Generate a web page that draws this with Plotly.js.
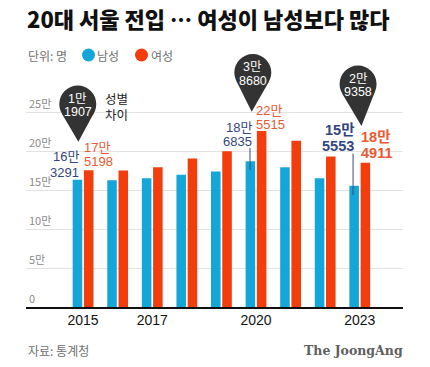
<!DOCTYPE html>
<html><head><meta charset="utf-8">
<script src="https://cdn.plot.ly/plotly-3.0.1.min.js"></script>
<style>html,body{margin:0;padding:0;background:#fff}</style>
</head><body><div id="chart" style="width:430px;height:367px"></div>
<script>
const years = [2015, 2016, 2017, 2018, 2019, 2020, 2021, 2022, 2023];
const male = [163291, 162600, 165100, 169500, 173700, 186835, 179200, 165100, 155553];
const female = [175198, 175000, 179200, 190400, 199700, 225515, 213000, 193000, 184911];
const yTickVals = [0, 50000, 100000, 150000, 200000, 250000];
const yTickText = ['0', '5만', '10만', '15만', '20만', '25만'];
const xTickVals = [2015, 2017, 2020, 2023];
const calloutYears = [2015, 2020, 2023];
const maleLabels = [['16만', '3291'], ['18만', '6835'], ['15만', '5553']];
const femaleLabels = [['17만', '5198'], ['22만', '5515'], ['18만', '4911']];
const gapLabels = [['1만', '1907'], ['3만', '8680'], ['2만', '9358']];

const BLUE = '#14a6d8', RED = '#f43d0c', NAVY = '#33467e', ORANGE = '#e85a33', PIN = '#333333';
const FONT = 'Liberation Sans, Noto Sans CJK KR, sans-serif';
const KFONT = 'Noto Sans CJK KR, sans-serif';
const YMAX = 237 / 0.00078;

// layout-only styling for callouts (pixel offsets, y up from bar top)
const pinC = [[-5.3, 66.3], [-3.2, 58.6], [-1.7, 78.8]];
const pinT = [[-4.7, 28.6], [-4.3, 19.4], [1.7, 36.8]];
const PIN_R = 18.5;
const mX = [-3, -3, -5], mY = [[22.9, 7.6], [34, 19.6], [55.7, 39.5]];
const fX = [0, -1, 0], fY = [[23.3, 8.6], [21.1, 7.1], [26, 9.5]];
const bold = [false, false, true];
const leaders = [null, [-6, 13.3, -8.7], [-6.7, 32, -9.3]];

const traces = [
  {type: 'bar', x: years, y: male, name: '남성', marker: {color: BLUE}, hoverinfo: 'skip'},
  {type: 'bar', x: years, y: female, name: '여성', marker: {color: RED}, hoverinfo: 'skip'}
];

const annotations = [];
const shapes = [];
function dataText(x, y, xshift, yshift, text, font, xanchor) {
  annotations.push({x, y, xref: 'x', yref: 'y', text, showarrow: false, borderpad: 0,
    xanchor, yanchor: 'middle', xshift, yshift, font});
}
calloutYears.forEach((yr, k) => {
  const i = years.indexOf(yr);
  const fs = bold[k] ? 14.5 : 13;
  const w = t => bold[k] ? '<b>' + t + '</b>' : t;
  maleLabels[k].forEach((t, j) => dataText(yr, male[i], mX[k], mY[k][j], w(t),
    {family: FONT, size: fs, color: NAVY}, 'right'));
  femaleLabels[k].forEach((t, j) => dataText(yr, female[i], fX[k], fY[k][j], w(t),
    {family: FONT, size: fs, color: ORANGE}, 'left'));
  // pin (teardrop)
  const [cx, cy] = pinC[k], [tx, ty] = pinT[k];
  const d = Math.hypot(tx - cx, ty - cy), ux = (tx - cx) / d, uy = (ty - cy) / d;
  const th = Math.acos(PIN_R / d), px = -uy, py = ux;
  const a1 = [cx + PIN_R * (Math.cos(th) * ux + Math.sin(th) * px), cy + PIN_R * (Math.cos(th) * uy + Math.sin(th) * py)];
  const a2 = [cx + PIN_R * (Math.cos(th) * ux - Math.sin(th) * px), cy + PIN_R * (Math.cos(th) * uy - Math.sin(th) * py)];
  const ya = female[i] / YMAX;
  shapes.push({type: 'circle', xref: 'x', yref: 'paper', xsizemode: 'pixel', ysizemode: 'pixel',
    xanchor: yr, yanchor: ya, x0: cx - PIN_R, x1: cx + PIN_R, y0: cy - PIN_R, y1: cy + PIN_R,
    fillcolor: PIN, line: {width: 0}});
  shapes.push({type: 'path', xref: 'x', yref: 'paper', xsizemode: 'pixel', ysizemode: 'pixel',
    xanchor: yr, yanchor: ya,
    path: `M ${tx},${ty} L ${a1[0].toFixed(2)},${a1[1].toFixed(2)} L ${a2[0].toFixed(2)},${a2[1].toFixed(2)} Z`,
    fillcolor: PIN, line: {width: 0}});
  gapLabels[k].forEach((t, j) => dataText(yr, female[i], cx, cy - 1.5 + (j === 0 ? 6.8 : -6.8), t,
    {family: FONT, size: 12.5, color: '#ffffff'}, 'center'));
  if (leaders[k]) {
    const [lx, y0, y1] = leaders[k];
    shapes.push({type: 'line', xref: 'x', yref: 'y', xsizemode: 'pixel', ysizemode: 'pixel',
      xanchor: yr, yanchor: male[i], x0: lx, x1: lx, y0, y1, line: {color: '#3b4a70', width: 1}});
  }
});

// legend circles
[[88.5, BLUE], [141.5, RED]].forEach(([px, c]) => {
  shapes.push({type: 'circle', xref: 'paper', yref: 'paper', xsizemode: 'pixel', ysizemode: 'pixel',
    xanchor: (px - 26) / 377, yanchor: (307 - 55) / 237, x0: -6.5, x1: 6.5, y0: -6.5, y1: 6.5,
    fillcolor: c, line: {width: 0}});
});
const P = (px, py) => ({x: (px - 26) / 377, y: (307 - py) / 237});
function txt(px, py, text, font, xanchor) {
  const p = P(px, py);
  annotations.push({xref: 'paper', yref: 'paper', x: p.x, y: p.y, text, showarrow: false, borderpad: 0,
    xanchor: xanchor || 'left', yanchor: 'middle', align: 'left', font});
}
txt(27, 55, '단위: 명', {family: KFONT, size: 12, color: '#707070'});
txt(96, 55, '남성', {family: KFONT, size: 12, color: '#707070'});
txt(149.5, 55, '여성', {family: KFONT, size: 12, color: '#707070'});
txt(104, 106.3, '성별<br>차이', {family: KFONT, size: 12.5, color: '#222'});
txt(27, 350, '자료: 통계청', {family: KFONT, size: 12, color: '#707070'});
txt(404, 350, '<b>The JoongAng</b>', {family: 'DejaVu Serif, serif', size: 12.5, color: '#5f5f5f'}, 'right');

const layout = {
  width: 430, height: 367,
  margin: {l: 26, r: 27, t: 70, b: 60},
  paper_bgcolor: '#fff', plot_bgcolor: '#fff',
  showlegend: false,
  barmode: 'group', bargap: 0.35, bargroupgap: 0.15,
  title: {text: '20대 서울 전입 … 여성이 남성보다 많다', x: 27 / 430, xanchor: 'left',
    y: 1 - 20 / 367, yanchor: 'middle', font: {family: KFONT, size: 22, weight: 900, color: '#111'}},
  xaxis: {range: [2013.35, 2024.25], tickvals: xTickVals, ticktext: xTickVals.map(String),
    showgrid: false, zeroline: false, showline: true, linecolor: '#111', linewidth: 1.5, ticks: '',
    tickfont: {family: FONT, size: 14, color: '#111'}, fixedrange: true},
  yaxis: {range: [0, YMAX], tickvals: yTickVals, ticktext: yTickText,
    ticklabelposition: 'inside top', showgrid: true, gridcolor: '#e2e2e2', gridwidth: 1,
    zeroline: false, showline: false, ticks: '',
    tickfont: {family: KFONT, size: 11, color: '#8a8a8a'}, fixedrange: true},
  annotations, shapes
};
Plotly.newPlot('chart', traces, layout, {displayModeBar: false, staticPlot: true});
</script>
</body></html>
